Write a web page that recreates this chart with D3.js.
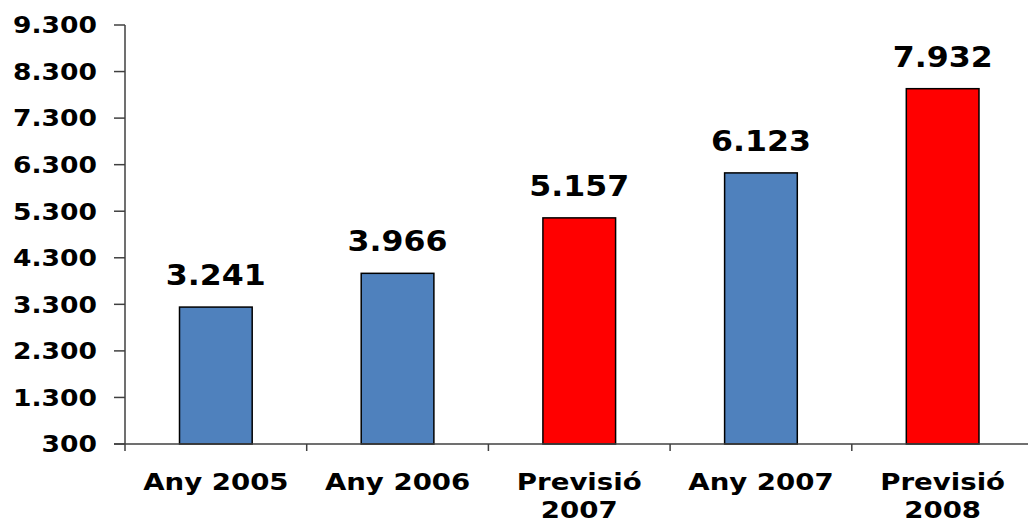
<!DOCTYPE html>
<html>
<head>
<meta charset="utf-8">
<script src="https://cdn.jsdelivr.net/npm/d3@7"></script>
<style>
  html, body { margin: 0; padding: 0; background: #fff; }
  svg { display: block; }
  text { font-family: "DejaVu Sans", Verdana, sans-serif; font-weight: bold; fill: #000; }
</style>
</head>
<body>
<svg id="chart" width="1028" height="524"></svg>
<script>
const categories = [["Any 2005"], ["Any 2006"], ["Previsió", "2007"], ["Any 2007"], ["Previsió", "2008"]];
const values = [3241, 3966, 5157, 6123, 7932];
const forecast = [false, false, true, false, true];
const valueLabels = ["3.241", "3.966", "5.157", "6.123", "7.932"];
const yTicks = [300, 1300, 2300, 3300, 4300, 5300, 6300, 7300, 8300, 9300];
const yTickLabels = ["300", "1.300", "2.300", "3.300", "4.300", "5.300", "6.300", "7.300", "8.300", "9.300"];

const svg = d3.select("#chart");
const x0 = 125, x1 = 1033.5, yBottom = 444, yTop = 25;

const x = d3.scaleBand().domain(d3.range(categories.length)).range([x0, x1]).paddingInner(0).paddingOuter(0);
const y = d3.scaleLinear().domain([300, 9300]).range([yBottom, yTop]);

const axisColor = "#404040";

// bars
const barW = x.bandwidth() * 0.4;
svg.selectAll("rect.bar").data(values).enter().append("rect")
  .attr("class", "bar")
  .attr("x", (d, i) => x(i) + (x.bandwidth() - barW) / 2)
  .attr("y", d => y(d))
  .attr("width", barW)
  .attr("height", d => y(300) - y(d))
  .attr("fill", (d, i) => forecast[i] ? "#FF0000" : "#4F81BD")
  .attr("stroke", "#000")
  .attr("stroke-width", 1.5);

// y axis
const yAxis = svg.append("g");
yAxis.append("line").attr("x1", x0).attr("x2", x0).attr("y1", y(9300)).attr("y2", yBottom + 7)
  .attr("stroke", axisColor).attr("stroke-width", 1.5);
yTicks.forEach((t, i) => {
  yAxis.append("line").attr("x1", x0 - 11).attr("x2", x0).attr("y1", y(t)).attr("y2", y(t))
    .attr("stroke", axisColor).attr("stroke-width", 1.5);
  yAxis.append("text")
    .attr("transform", `translate(97,${y(t) + 8.3}) scale(1.18,1)`)
    .attr("text-anchor", "end")
    .style("font-size", "22.5px")
    .text(yTickLabels[i]);
});

// x axis
const xAxis = svg.append("g");
xAxis.append("line").attr("x1", x0 - 11).attr("x2", x1).attr("y1", yBottom).attr("y2", yBottom)
  .attr("stroke", axisColor).attr("stroke-width", 1.5);
d3.range(1, categories.length + 1).forEach(i => {
  const xx = x0 + i * x.bandwidth();
  xAxis.append("line").attr("x1", xx).attr("x2", xx).attr("y1", yBottom).attr("y2", yBottom + 7)
    .attr("stroke", axisColor).attr("stroke-width", 1.5);
});
categories.forEach((lines, i) => {
  const cx = x(i) + x.bandwidth() / 2;
  lines.forEach((ln, j) => {
    xAxis.append("text")
      .attr("transform", `translate(${cx},${489.5 + j * 28.5}) scale(1.2,1)`)
      .attr("text-anchor", "middle")
      .style("font-size", "23px")
      .text(ln);
  });
});

// value labels
svg.selectAll("text.val").data(values).enter().append("text")
  .attr("class", "val")
  .attr("transform", (d, i) => `translate(${x(i) + x.bandwidth() / 2},${y(d) - 22}) scale(1.09,1)`)
  .attr("text-anchor", "middle")
  .style("font-size", "29px")
  .text((d, i) => valueLabels[i]);
</script>
</body>
</html>
